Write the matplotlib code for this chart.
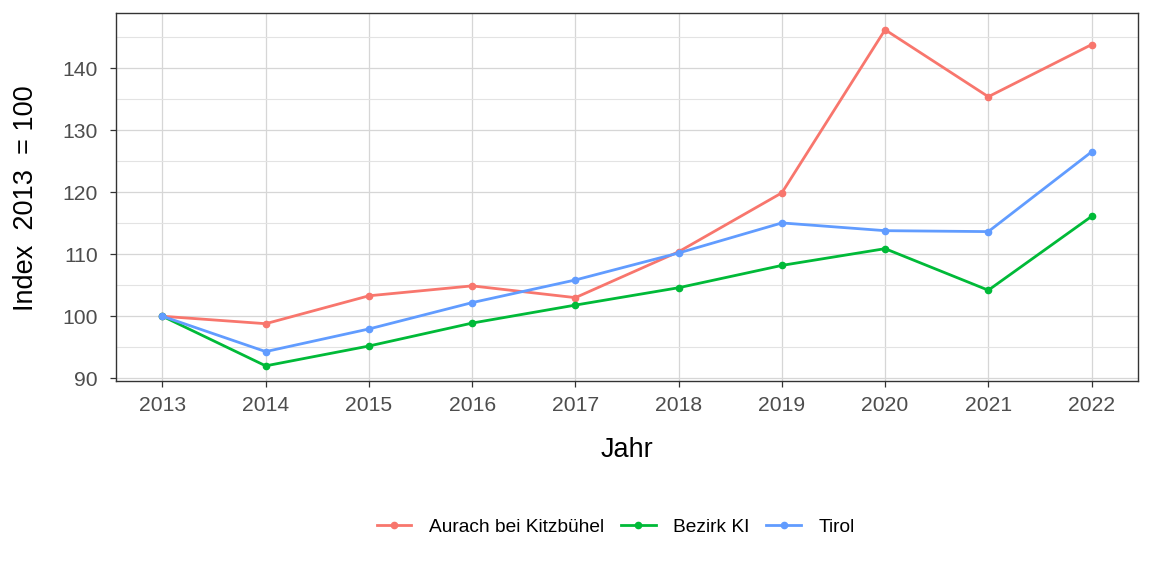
import matplotlib
matplotlib.use("Agg")
import matplotlib.pyplot as plt
from matplotlib.lines import Line2D

plt.rcParams['font.family'] = ['Liberation Sans', 'DejaVu Sans']

years = [2013, 2014, 2015, 2016, 2017, 2018, 2019, 2020, 2021, 2022]
aurach = [100, 98.8, 103.3, 104.9, 103.0, 110.4, 119.9, 146.2, 135.4, 143.8]
bezirk = [100, 92.0, 95.2, 98.9, 101.8, 104.6, 108.2, 110.9, 104.2, 116.1]
tirol = [100, 94.3, 97.95, 102.2, 105.85, 110.2, 115.05, 113.8, 113.65, 126.5]
series_names = ["Aurach bei Kitzbühel", "Bezirk KI", "Tirol"]
colors = ["#F8766D", "#00BA38", "#619CFF"]

W, H = 1152, 576
fig = plt.figure(figsize=(W/100, H/100), dpi=100)
ax = fig.add_axes([116/W, 1-381/H, (1138-116)/W, (381-13)/H])

for vals, name, c in zip([aurach, bezirk, tirol], series_names, colors):
    ax.plot(years, vals, color=c, lw=2.0, marker='o', ms=4.5, label=name, zorder=3)

ax.set_xlim(2012.55, 2022.45)
ax.set_ylim(89.56, 148.9)
ax.set_xticks(years)
ax.set_yticks([90, 100, 110, 120, 130, 140])
ax.set_yticks([95, 105, 115, 125, 135, 145], minor=True)
ax.grid(True, which='major', color='#D6D6D6', lw=0.9)
ax.grid(True, which='minor', color='#E3E3E3', lw=0.8)
ax.set_axisbelow(True)
for s in ax.spines.values():
    s.set_color('#333333')
    s.set_linewidth(1.0)
ax.tick_params(axis='both', which='major', colors='#333333', labelcolor='#4D4D4D',
               labelsize=15.2, length=4, width=0.9)
ax.tick_params(axis='y', which='major', pad=9)
ax.tick_params(axis='x', which='major', pad=7)
ax.tick_params(axis='both', which='minor', length=0)

fig.text(26/W, 1-198/H, "Index  2013  = 100", fontsize=19.5, rotation=90,
         ha='center', va='center', color='black')
fig.text((116+1138)/2/W, 1-450/H, "Jahr", fontsize=19.5, ha='center', va='center', color='black')

handles = [Line2D([0], [0], color=c, lw=2.0, marker='o', ms=4.5) for c in colors]
fig.legend(handles, series_names, loc='center', bbox_to_anchor=(0.5345, 1-527/H),
           ncol=3, frameon=False, fontsize=13.8, handlelength=1.8, columnspacing=0.9,
           handletextpad=0.9)

fig.savefig("out.png", dpi=100, facecolor='white')
